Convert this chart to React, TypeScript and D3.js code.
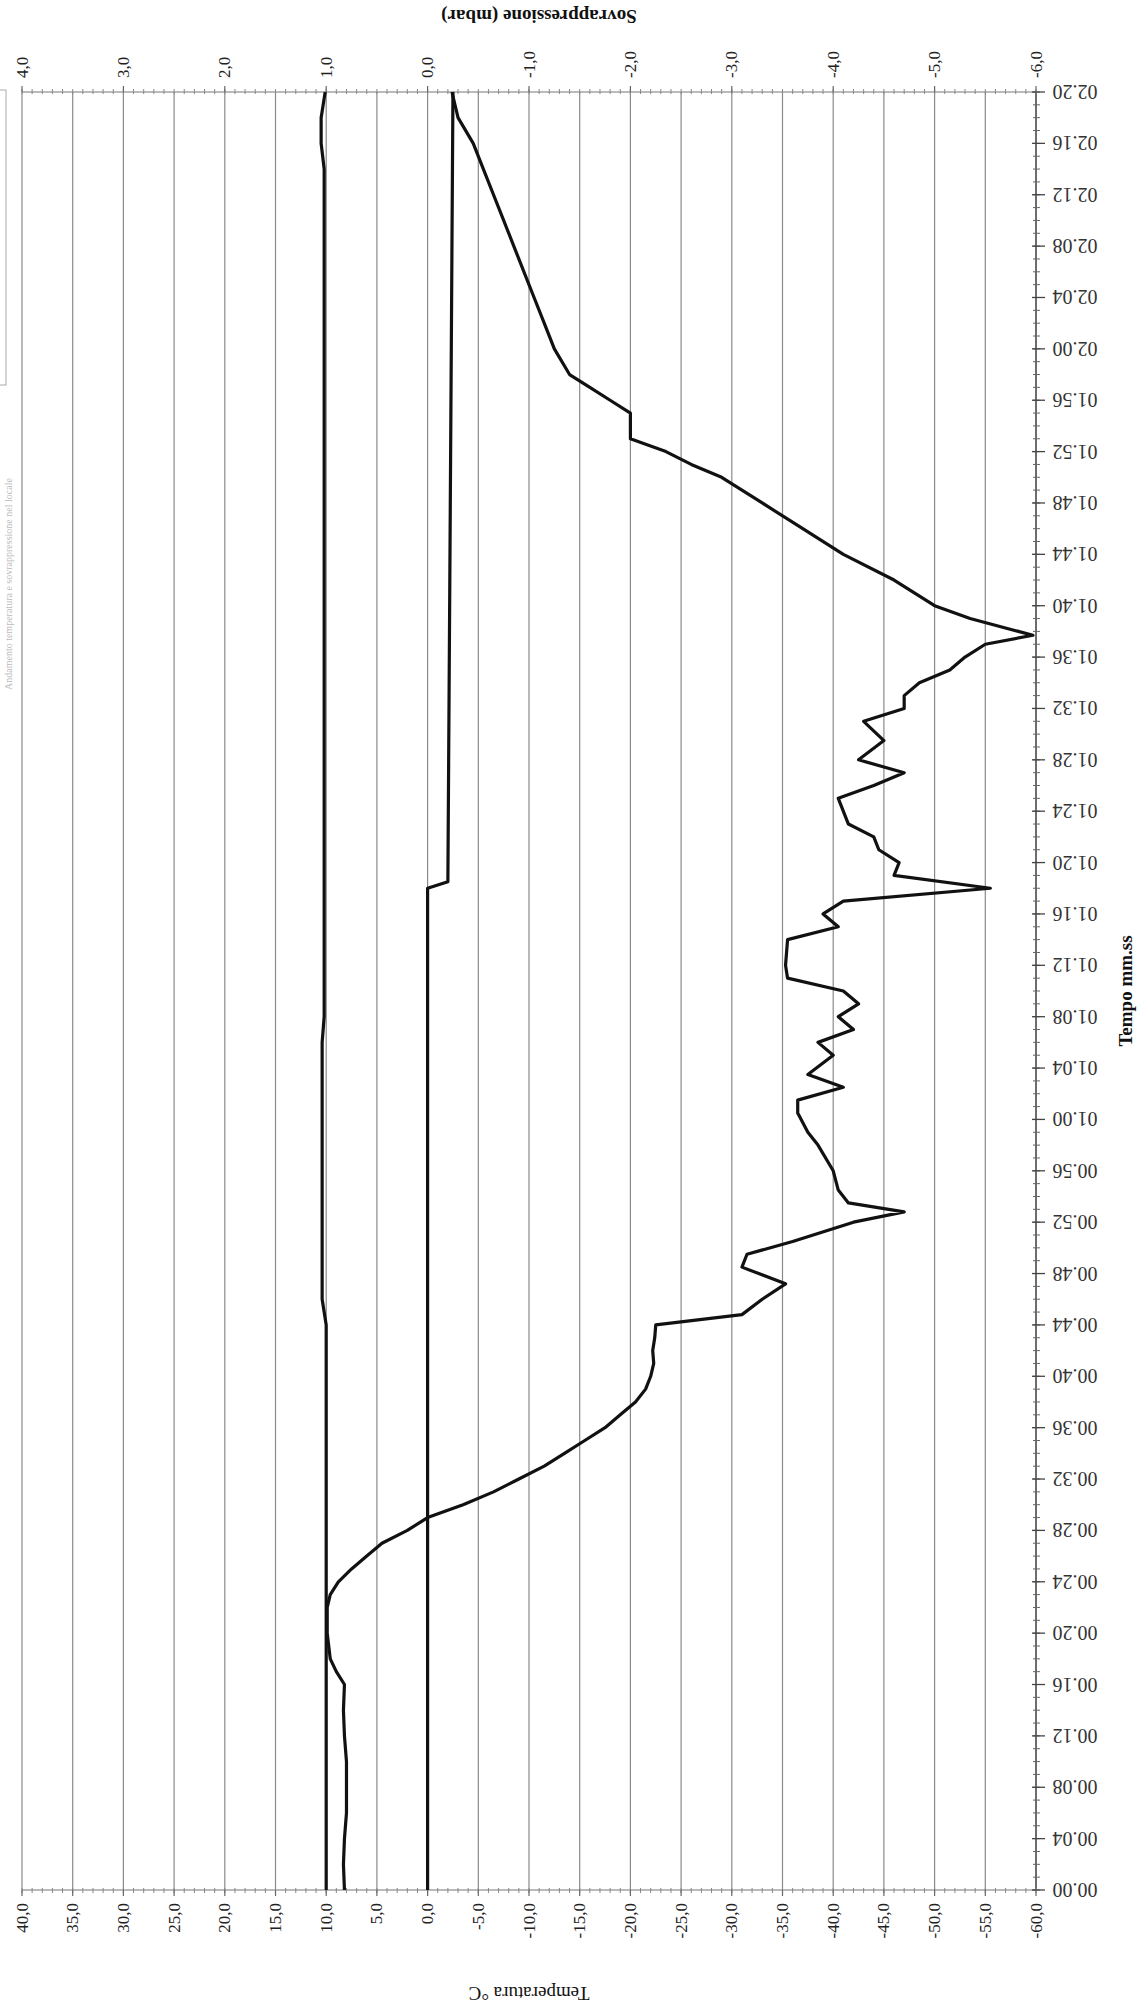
import React from 'react';
import * as d3 from 'd3';

// ---- data (time in seconds) ----
const tempTime = [0, 2, 4, 6, 8, 10, 12, 14, 16, 17, 18, 20, 22, 23, 24, 25, 26, 27, 28, 29, 30, 31, 32, 33, 34, 35, 36, 37, 38, 39, 40, 41, 42, 43, 44, 44.8, 46, 47.2, 48.5, 49.5, 50.5, 52, 52.8, 53.5, 54.5, 56, 58, 59, 60.5, 61.5, 62.5, 63.5, 65, 66, 67, 68, 69, 70, 71, 72, 74, 75, 76, 77, 78, 79, 80, 81, 82, 83, 85, 86, 87, 88, 89.5, 91, 92, 93, 94, 95, 96, 97, 97.7, 99, 100, 102, 104, 106, 108, 110, 111, 112, 113, 115, 116, 117, 118, 120, 122, 124, 126, 128, 130, 132, 134, 136, 138, 140];
const tempValues = [8.2, 8.3, 8.2, 8.0, 8.0, 8.0, 8.2, 8.3, 8.2, 9.0, 9.6, 9.9, 9.9, 9.6, 8.8, 7.5, 6.0, 4.5, 2.0, 0, -3.5, -6.5, -9.0, -11.5, -13.5, -15.5, -17.5, -19.0, -20.5, -21.5, -22.0, -22.3, -22.2, -22.4, -22.5, -31, -33, -35.3, -31.0, -31.5, -36, -42, -47.0, -41.5, -40.5, -40, -38.5, -37.5, -36.5, -36.5, -41, -37.5, -40, -38.5, -42, -40.5, -42.5, -41, -35.5, -35.3, -35.5, -40.5, -39, -41, -55.5, -46, -46.5, -44.5, -44, -41.5, -40.5, -44, -47, -42.5, -45, -43, -47, -47, -48.5, -51.5, -53, -55, -59.7, -53.5, -50, -46, -41, -37, -33, -29, -26, -23.5, -20, -20, -18, -16, -14, -12.5, -11.5, -10.5, -9.5, -8.5, -7.5, -6.5, -5.5, -4.5, -3, -2.4];

const ambientTime = [0, 44, 46, 66, 68, 134, 136, 138, 140];
const ambientValues = [10.0, 10.0, 10.4, 10.4, 10.2, 10.2, 10.5, 10.5, 10.1];

const pressureTime = [0, 78, 78.5, 140];
const pressureValues = [0.0, 0.0, -0.2, -0.25];

const tempTicks = [40, 35, 30, 25, 20, 15, 10, 5, 0, -5, -10, -15, -20, -25, -30, -35, -40, -45, -50, -55, -60];
const pressureTicks = [4, 3, 2, 1, 0, -1, -2, -3, -4, -5, -6];
const timeTicks = d3.range(0, 141, 4);

const W = 1138;
const H = 2013;
const L = 22, R = 1036, T = 92, B = 1890;

const fmtNum = (v: number) => v.toFixed(1).replace('.', ',');
const fmtTime = (s: number) => {
  const m = Math.floor(s / 60);
  const ss = s % 60;
  return `${String(m).padStart(2, '0')}.${String(ss).padStart(2, '0')}`;
};

export default function App() {
  const yTime = d3.scaleLinear().domain([0, 140]).range([B, T]);
  const xTemp = d3.scaleLinear().domain([40, -60]).range([L, R]);
  const xPress = d3.scaleLinear().domain([4, -6]).range([L, R]);

  const lineTemp = d3.line<number>().x((d) => xTemp(d)).y((d, i) => yTime(tempTime[i]));
  const lineAmb = d3.line<number>().x((d) => xTemp(d)).y((d, i) => yTime(ambientTime[i]));
  const linePress = d3.line<number>().x((d) => xPress(d)).y((d, i) => yTime(pressureTime[i]));

  const font = '"Liberation Serif", "Times New Roman", serif';
  const minorTemp = d3.range(40, -60.5, -1);
  const minorPress = d3.range(40, -60.5, -1).map((v) => v / 10);
  const minorTime = d3.range(0, 141, 1);

  return (
    <svg width={W} height={H} style={{ position: 'absolute', left: 0, top: 0, background: '#fff' }} fontFamily={font}>
      <rect x={0} y={0} width={W} height={H} fill="#fff" />
      {/* faint title and legend at the left edge */}
      <text transform={`translate(8,690) rotate(-90)`} fontSize={10} fill="#bbb" textAnchor="start" dominantBaseline="central">
        Andamento temperatura e sovrappressione nel locale
      </text>
      <rect x={-2} y={90} width={8} height={295} fill="none" stroke="#aaa" strokeWidth={1} />

      {/* gridlines */}
      {tempTicks.map((v) => (
        <line key={'g' + v} x1={xTemp(v)} x2={xTemp(v)} y1={T} y2={B} stroke="#8a8a8a" strokeWidth={1.2} />
      ))}
      {/* axes lines */}
      <line x1={L} x2={R} y1={B} y2={B} stroke="#777" strokeWidth={1.2} />
      <line x1={L} x2={R} y1={T} y2={T} stroke="#777" strokeWidth={1.2} />
      <line x1={R} x2={R} y1={T} y2={B} stroke="#555" strokeWidth={1.5} />

      {/* minor ticks */}
      {minorTemp.map((v) => (
        <line key={'mt' + v} x1={xTemp(v)} x2={xTemp(v)} y1={B - 2} y2={B + 3} stroke="#888" strokeWidth={1} />
      ))}
      {minorPress.map((v) => (
        <line key={'mp' + v} x1={xPress(v)} x2={xPress(v)} y1={T - 3} y2={T + 2} stroke="#888" strokeWidth={1} />
      ))}
      {minorTime.map((v) => (
        <line key={'mti' + v} x1={R - 3} x2={R + 4} y1={yTime(v)} y2={yTime(v)} stroke="#666" strokeWidth={1} />
      ))}
      {timeTicks.map((v) => (
        <line key={'Mti' + v} x1={R - 4} x2={R + 9} y1={yTime(v)} y2={yTime(v)} stroke="#444" strokeWidth={1.3} />
      ))}
      {tempTicks.map((v) => (
        <line key={'Mt' + v} x1={xTemp(v)} x2={xTemp(v)} y1={B} y2={B + 6} stroke="#666" strokeWidth={1.2} />
      ))}
      {pressureTicks.map((v) => (
        <line key={'Mp' + v} x1={xPress(v)} x2={xPress(v)} y1={T - 6} y2={T} stroke="#666" strokeWidth={1.2} />
      ))}

      {/* tick labels */}
      {tempTicks.map((v) => (
        <text key={'lt' + v} transform={`translate(${xTemp(v)},${B + 13}) rotate(-90)`} fontSize={17} fill="#222" textAnchor="end" dominantBaseline="central">
          {fmtNum(v)}
        </text>
      ))}
      {pressureTicks.map((v) => (
        <text key={'lp' + v} transform={`translate(${xPress(v)},${T - 14}) rotate(-90)`} fontSize={17} fill="#222" textAnchor="start" dominantBaseline="central">
          {fmtNum(v)}
        </text>
      ))}
      {timeTicks.map((v) => (
        <text key={'lti' + v} transform={`translate(${R + 39},${yTime(v)}) rotate(180)`} fontSize={20} fill="#333" textAnchor="middle" dominantBaseline="central">
          {fmtTime(v)}
        </text>
      ))}

      {/* axis titles */}
      <text transform={`translate(${(L + R) / 2},1993) rotate(180)`} fontSize={19} fill="#111" textAnchor="middle" dominantBaseline="central">
        Temperatura °C
      </text>
      <text transform={`translate(${(L + R) / 2 + 10},16) rotate(180)`} fontSize={19} fontWeight="bold" fill="#111" textAnchor="middle" dominantBaseline="central">
        Sovrappressione (mbar)
      </text>
      <text transform={`translate(1125,${(T + B) / 2}) rotate(-90)`} fontSize={19} fontWeight="bold" fill="#111" textAnchor="middle" dominantBaseline="central">
        Tempo mm.ss
      </text>

      {/* series */}
      <path d={lineAmb(ambientValues) || ''} fill="none" stroke="#111" strokeWidth={3.2} strokeLinejoin="round" />
      <path d={linePress(pressureValues) || ''} fill="none" stroke="#111" strokeWidth={3.2} strokeLinejoin="round" />
      <path d={lineTemp(tempValues) || ''} fill="none" stroke="#111" strokeWidth={3.2} strokeLinejoin="round" />
    </svg>
  );
}
